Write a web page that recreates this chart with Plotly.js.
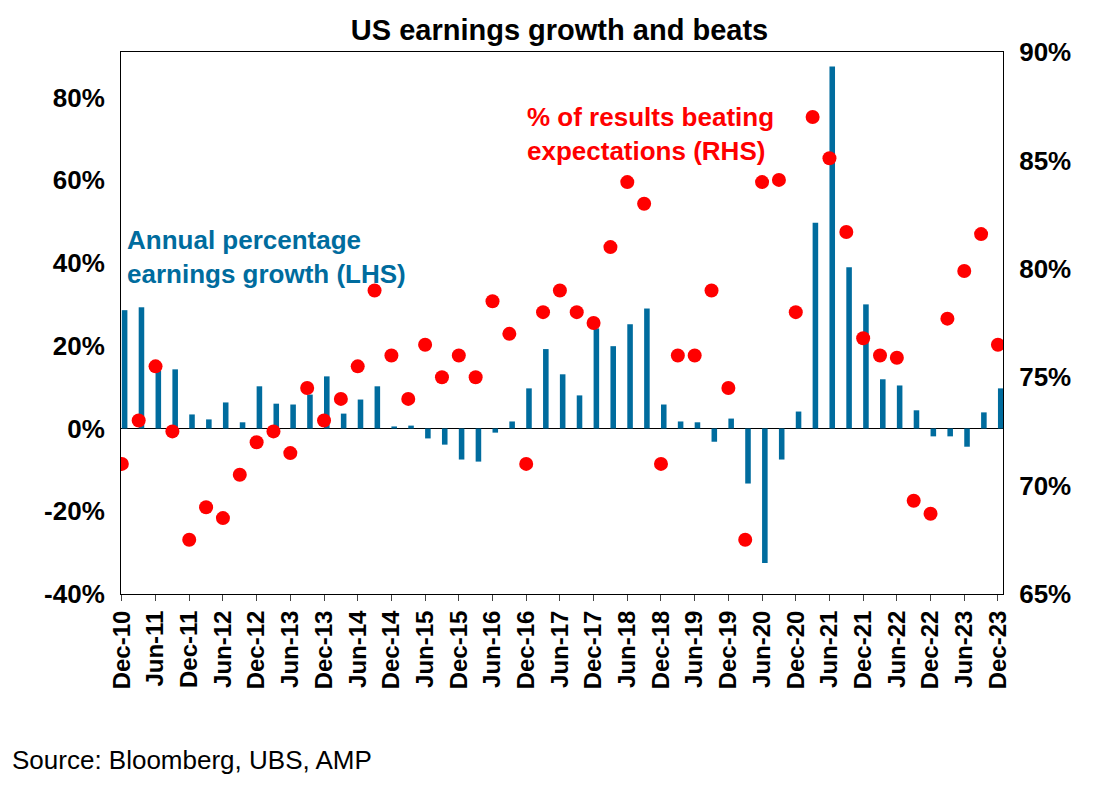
<!DOCTYPE html>
<html>
<head>
<meta charset="utf-8">
<script src="https://cdn.plot.ly/plotly-3.0.1.min.js"></script>
<style>body{margin:0;background:#fff}#chart{width:1119px;height:794px}</style>
</head>
<body>
<div id="chart"></div>
<script>
// quarterly, Dec-10 .. Dec-23
const quarters = [];
const months = ["Dec", "Mar", "Jun", "Sep"];
for (let i = 0; i < 53; i++) {
    let m = months[i % 4];
    let y = m === "Dec" ? 10 + i / 4 : 10 + Math.ceil(i / 4);
    quarters.push(m + "-" + String(y));
}

// annual earnings growth, % (LHS)
const growth = [28.6, 29.3, 14, 14.3, 3.4, 2.2, 6.3, 1.5, 10.2, 6, 5.8, 8.2, 12.6, 3.6, 7, 10.2,
    0.5, 0.7, -2.4, -3.9, -7.5, -8, -1, 1.7, 9.7, 19.2, 13.1, 8, 24.2, 19.9, 25.2, 29,
    5.8, 1.7, 1.5, -3.2, 2.4, -13.3, -32.5, -7.5, 4.1, 49.7, 87.5, 39, 30, 11.9, 10.4, 4.4,
    -1.9, -1.9, -4.4, 3.9, 9.7];

// % of results beating expectations (RHS)
const beats = [71, 73, 75.5, 72.5, 67.5, 69, 68.5, 70.5, 72, 72.5, 71.5, 74.5, 73, 74, 75.5, 79,
    76, 74, 76.5, 75, 76, 75, 78.5, 77, 71, 78, 79, 78, 77.5, 81, 84, 83,
    71, 76, 76, 79, 74.5, 67.5, 84, 84.1, 78, 87, 85.1, 81.7, 76.8, 76, 75.9, 69.3,
    68.7, 77.7, 79.9, 81.6, 76.5];

const leftTicks = [-40, -20, 0, 20, 40, 60, 80];
const rightTicks = [65, 70, 75, 80, 85, 90];

const idx = quarters.map((q, i) => i);
const tickIdx = idx.filter(i => i % 2 === 0);
const tickText = tickIdx.map(i => "<b>" + quarters[i] + "</b>");

const blue = "#006c9e";
const red = "#ff0000";

let data = [
    {
        type: "bar",
        x: idx,
        y: growth,
        width: 0.33,
        offset: 0,
        marker: { color: blue },
        showlegend: false
    },
    {
        type: "scatter",
        mode: "markers",
        x: idx,
        y: beats,
        yaxis: "y2",
        marker: { color: red, size: 14 },
        showlegend: false
    }
];

let layout = {
    width: 1119,
    height: 794,
    margin: { l: 121, r: 116, t: 52, b: 200 },
    paper_bgcolor: "#fff",
    plot_bgcolor: "#fff",
    font: { family: "Liberation Sans, Arial", color: "#000" },
    title: { text: "<b>US earnings growth and beats</b>", font: { size: 29 }, x: 0.5, y: 0.962, yanchor: "middle" },
    xaxis: {
        range: [-0.05, 52.3],
        tickvals: tickIdx,
        ticktext: tickText,
        tickangle: -90,
        tickfont: { size: 24 },
        ticks: "outside",
        ticklen: 6,
        showgrid: false,
        zeroline: false,
        showline: true,
        linecolor: "#000",
        mirror: true
    },
    yaxis: {
        range: [-40, 91],
        tickvals: leftTicks,
        ticktext: leftTicks.map(v => "<b>" + v + "%</b>"),
        tickfont: { size: 26 },
        showgrid: false,
        zeroline: true,
        zerolinecolor: "#000",
        zerolinewidth: 1,
        showline: true,
        linecolor: "#000",
        ticks: "",
        ticklabelstandoff: 10
    },
    yaxis2: {
        overlaying: "y",
        side: "right",
        range: [65, 90],
        tickvals: rightTicks,
        ticktext: rightTicks.map(v => "<b>" + v + "%</b>"),
        tickfont: { size: 26 },
        showgrid: false,
        zeroline: false,
        showline: true,
        linecolor: "#000",
        ticks: "",
        ticklabelstandoff: 10
    },
    annotations: [
        {
            text: "<b>% of results beating<br>expectations (RHS)</b>",
            x: 31.4, y: 86.2, xref: "x", yref: "y2",
            showarrow: false, align: "left", xanchor: "center",
            font: { size: 26, color: red }
        },
        {
            text: "<b>Annual percentage<br>earnings growth (LHS)</b>",
            x: 0.2, y: 41.5, xref: "x", yref: "y",
            showarrow: false, align: "left", xanchor: "left",
            font: { size: 26, color: blue }
        },
        {
            text: "Source: Bloomberg, UBS, AMP",
            xref: "paper", yref: "paper", x: -111 / 882, y: -166 / 542,
            xanchor: "left", yanchor: "middle", showarrow: false,
            font: { size: 26 }
        }
    ]
};

Plotly.newPlot("chart", data, layout, { displayModeBar: false });
</script>
</body>
</html>
